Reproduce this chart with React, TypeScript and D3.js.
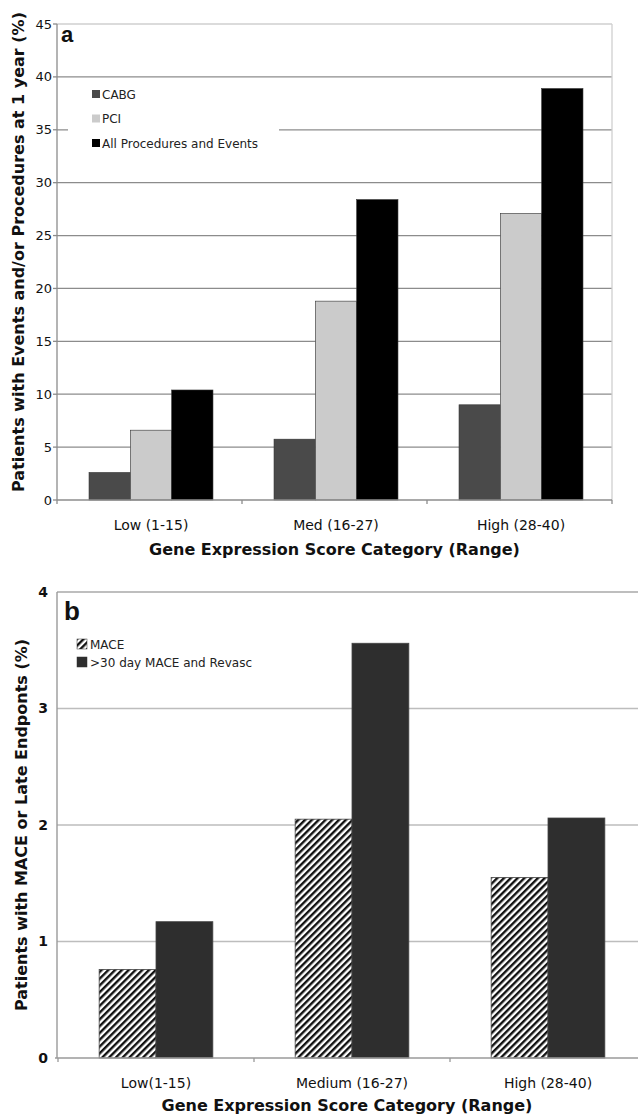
import React from 'react';
import * as d3 from 'd3';

// panel a
const CATEGORIES_A = ['Low (1-15)', 'Med (16-27)', 'High (28-40)'];
const SERIES_A = ['CABG', 'PCI', 'All Procedures and Events'];
const CABG = [2.6, 5.75, 9.0];
const PCI = [6.6, 18.8, 27.1];
const ALL_EVENTS = [10.4, 28.4, 38.9];
const Y_TICKS_A = [0, 5, 10, 15, 20, 25, 30, 35, 40, 45];

// panel b
const CATEGORIES_B = ['Low(1-15)', 'Medium (16-27)', 'High (28-40)'];
const SERIES_B = ['MACE', '>30 day MACE and Revasc'];
const MACE = [0.76, 2.05, 1.55];
const LATE = [1.17, 3.56, 2.06];
const Y_TICKS_B = [0, 1, 2, 3, 4];

const FONT = '"DejaVu Sans", Verdana, sans-serif';
const COLORS_A = ['#4a4a4a', '#cbcbcb', '#000000'];

const PanelA = () => {
  const left = 57;
  const right = 612;
  const top = 24;
  const bottom = 500;

  const x0 = d3.scaleBand<string>()
    .domain(CATEGORIES_A)
    .range([left + 1.5, right + 1.5])
    .paddingInner(0.33)
    .paddingOuter(0.165);
  const x1 = d3.scaleBand<string>()
    .domain(SERIES_A)
    .range([0, x0.bandwidth()]);
  const y = d3.scaleLinear().domain([0, 45]).range([bottom, top]);

  const values = [CABG, PCI, ALL_EVENTS];
  const step = (right - left) / CATEGORIES_A.length;

  return (
    <g>
      {Y_TICKS_A.filter(t => t > 0 && t < 45).map(t => (
        <line key={t} x1={left} x2={right} y1={y(t)} y2={y(t)} stroke="#8c8c8c" strokeWidth={1.3} />
      ))}
      <line x1={left} x2={right} y1={y(45)} y2={y(45)} stroke="#cfcfcf" strokeWidth={1.3} />
      <line x1={right} x2={right} y1={y(45)} y2={y(0)} stroke="#cfcfcf" strokeWidth={1.3} />

      {/* legend box */}
      <rect x={68} y={82} width={211} height={74} fill="#fff" />
      {SERIES_A.map((s, i) => (
        <g key={s} transform={`translate(92, ${94 + i * 24.5})`}>
          <rect x={0} y={-4} width={8} height={8} fill={COLORS_A[i]} />
          <text x={10} y={4.5} fontFamily={FONT} fontSize={12} fill="#222">{s}</text>
        </g>
      ))}

      {CATEGORIES_A.map((c, ci) => (
        <g key={c} transform={`translate(${x0(c)},0)`}>
          {SERIES_A.map((s, si) => (
            <rect
              key={s}
              x={x1(s)}
              y={y(values[si][ci])}
              width={x1.bandwidth()}
              height={y(0) - y(values[si][ci])}
              fill={COLORS_A[si]}
              stroke="#333"
              strokeWidth={0.6}
            />
          ))}
        </g>
      ))}

      <line x1={left} x2={left} y1={top} y2={bottom} stroke="#8c8c8c" strokeWidth={1.3} />
      <line x1={left} x2={right} y1={bottom} y2={bottom} stroke="#8c8c8c" strokeWidth={1.3} />
      {Y_TICKS_A.map(t => (
        <g key={t}>
          <line x1={left - 4} x2={left} y1={y(t)} y2={y(t)} stroke="#8c8c8c" strokeWidth={1.3} />
          <text x={52} y={y(t)} dy="0.35em" textAnchor="end" fontFamily={FONT} fontSize={13} fill="#111">{t}</text>
        </g>
      ))}
      {d3.range(CATEGORIES_A.length + 1).map(i => (
        <line key={i} x1={left + i * step} x2={left + i * step} y1={bottom} y2={bottom + 4} stroke="#8c8c8c" strokeWidth={1.3} />
      ))}
      {CATEGORIES_A.map(c => (
        <text key={c} x={x0(c)! + x0.bandwidth() / 2} y={530} textAnchor="middle" fontFamily={FONT} fontSize={14} fill="#111">{c}</text>
      ))}
      <text x={(left + right) / 2} y={555} textAnchor="middle" fontFamily={FONT} fontSize={16} fontWeight="bold" fill="#111">
        Gene Expression Score Category (Range)
      </text>
      <text
        transform={`translate(24, 252) rotate(-90)`}
        textAnchor="middle"
        fontFamily={FONT}
        fontSize={16}
        fontWeight="bold"
        fill="#111"
      >
        Patients with Events and/or Procedures at 1 year (%)
      </text>
      <text x={61} y={42} fontFamily='"Liberation Sans", Arial, sans-serif' fontSize={22} fontWeight="bold" fill="#111">a</text>
    </g>
  );
};

const PanelB = () => {
  const left = 57;
  const right = 646;
  const top = 592;
  const bottom = 1058;

  const x0 = d3.scaleBand<string>()
    .domain(CATEGORIES_B)
    .range([left + 1, right])
    .paddingInner(0.42)
    .paddingOuter(0.21);
  const x1 = d3.scaleBand<string>()
    .domain(SERIES_B)
    .range([0, x0.bandwidth()]);
  const y = d3.scaleLinear().domain([0, 4]).range([bottom, top]);

  const values = [MACE, LATE];
  const fills = ['url(#hatch)', '#2e2e2e'];

  return (
    <g>
      <defs>
        <pattern id="hatch" patternUnits="userSpaceOnUse" width={4.8} height={10} patternTransform="rotate(45)">
          <rect width={4.8} height={10} fill="#fff" />
          <line x1={1.2} x2={1.2} y1={0} y2={10} stroke="#111" strokeWidth={2.4} />
        </pattern>
      </defs>
      {Y_TICKS_B.filter(t => t > 0).map(t => (
        <line key={t} x1={left} x2={right} y1={y(t)} y2={y(t)} stroke={t === 4 ? '#a8a8a8' : '#bdbdbd'} strokeWidth={1.4} />
      ))}

      {SERIES_B.map((s, i) => (
        <g key={s} transform={`translate(77, ${644 + i * 18})`}>
          <rect x={0} y={-5} width={10} height={10} fill={fills[i]} stroke="#333" strokeWidth={0.5} />
          <text x={13} y={4.5} fontFamily={FONT} fontSize={12} fill="#222">{s}</text>
        </g>
      ))}

      {CATEGORIES_B.map((c, ci) => (
        <g key={c} transform={`translate(${x0(c)},0)`}>
          {SERIES_B.map((s, si) => (
            <rect
              key={s}
              x={x1(s)}
              y={y(values[si][ci])}
              width={x1.bandwidth()}
              height={y(0) - y(values[si][ci])}
              fill={fills[si]}
              stroke="#444"
              strokeWidth={0.8}
            />
          ))}
        </g>
      ))}

      <line x1={left} x2={left} y1={top} y2={bottom} stroke="#9a9a9a" strokeWidth={1.4} />
      <line x1={left - 2} x2={right} y1={bottom} y2={bottom} stroke="#9a9a9a" strokeWidth={1.4} />
      {Y_TICKS_B.map(t => (
        <text key={t} x={48} y={y(t)} dy="0.35em" textAnchor="end" fontFamily={FONT} fontSize={14} fontWeight="bold" fill="#111">{t}</text>
      ))}
      {d3.range(CATEGORIES_B.length + 1).map(i => (
        <line key={i} x1={x0.range()[0] + i * x0.step()} x2={x0.range()[0] + i * x0.step()} y1={bottom} y2={bottom + 4} stroke="#9a9a9a" strokeWidth={1.3} />
      ))}
      {CATEGORIES_B.map(c => (
        <text key={c} x={x0(c)! + x0.bandwidth() / 2} y={1088} textAnchor="middle" fontFamily={FONT} fontSize={14} fill="#111">{c}</text>
      ))}
      <text x={347} y={1111} textAnchor="middle" fontFamily={FONT} fontSize={16} fontWeight="bold" fill="#111">
        Gene Expression Score Category (Range)
      </text>
      <text
        transform={`translate(27, ${(top + bottom) / 2}) rotate(-90)`}
        textAnchor="middle"
        fontFamily={FONT}
        fontSize={16}
        fontWeight="bold"
        fill="#111"
      >
        Patients with MACE or Late Endponts (%)
      </text>
      <text x={64} y={620} fontFamily='"Liberation Sans", Arial, sans-serif' fontSize={26} fontWeight="bold" fill="#111">b</text>
    </g>
  );
};

const App = () => (
  <svg
    width={638}
    height={1117}
    style={{ position: 'absolute', left: 0, top: 0, background: '#fff' }}
  >
    <rect width={638} height={1117} fill="#fff" />
    <PanelA />
    <PanelB />
  </svg>
);

export default App;
